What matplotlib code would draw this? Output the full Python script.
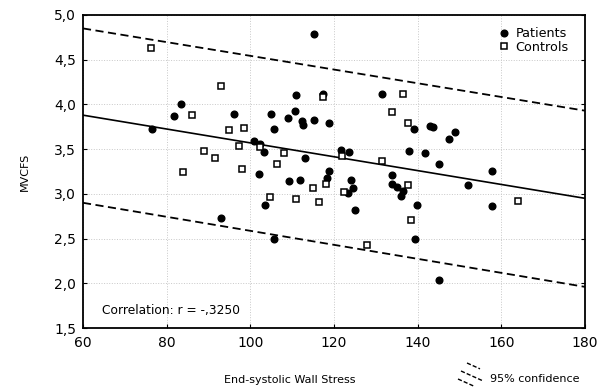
"""MVCFS vs end-systolic wall stress, patients and controls, with regression
line and 95% confidence band."""
import numpy as np
import matplotlib
matplotlib.use("Agg")
import matplotlib.pyplot as plt
from matplotlib.lines import Line2D
from matplotlib.ticker import FuncFormatter

# ---- data ----
pat_x = [76.4, 81.8, 83.4, 96.0, 105.0, 105.7, 110.8, 110.6, 109.1, 112.4,
         112.5, 115.3, 118.8, 115.3, 117.4, 100.9, 102.4, 103.3, 113.1, 102.0,
         109.2, 111.9, 118.9, 118.3, 124.0, 124.6, 123.3, 125.1, 103.6, 93.0,
         105.6, 121.7, 123.6, 131.5, 139.1, 143.0, 143.7, 149.0, 147.4, 138.0,
         141.8, 145.1, 133.8, 133.9, 135.0, 136.5, 135.9, 139.8, 139.3, 145.2,
         152.1, 157.7, 157.7]
pat_y = [3.72, 3.87, 4.00, 3.89, 3.89, 3.72, 4.11, 3.93, 3.85, 3.82,
         3.77, 3.83, 3.79, 4.79, 4.12, 3.59, 3.56, 3.47, 3.40, 3.22,
         3.14, 3.16, 3.26, 3.18, 3.15, 3.06, 3.01, 2.82, 2.87, 2.73,
         2.49, 3.49, 3.47, 4.12, 3.72, 3.76, 3.75, 3.69, 3.61, 3.48,
         3.46, 3.33, 3.21, 3.11, 3.08, 3.03, 2.98, 2.88, 2.49, 2.04,
         3.10, 3.26, 2.86]

ctl_x = [76.2, 92.9, 86.0, 95.0, 98.5, 89.0, 97.4, 91.6, 84.0, 97.9,
         102.2, 108.0, 106.3, 104.6, 111.0, 115.0, 116.5, 118.0, 117.4, 121.9,
         122.5, 131.4, 136.4, 133.9, 137.8, 137.8, 138.5, 127.8, 164.1]
ctl_y = [4.63, 4.21, 3.88, 3.71, 3.74, 3.48, 3.54, 3.40, 3.24, 3.28,
         3.52, 3.46, 3.33, 2.96, 2.94, 3.06, 2.91, 3.11, 4.08, 3.42,
         3.02, 3.37, 4.12, 3.91, 3.79, 3.10, 2.71, 2.43, 2.92]

# regression line and 95% band (values at the x-axis ends)
line_x = [60, 180]
fit_y = [3.88, 2.95]
upper_y = [4.85, 3.93]
lower_y = [2.90, 1.96]


def comma(v, pos):
    return f"{v:.1f}".replace(".", ",")


fig = plt.figure(figsize=(6.06, 3.89), dpi=100)
ax = fig.add_axes([83 / 606, 1 - 328 / 389, (585 - 83) / 606, (328 - 15) / 389])

dash = (0, (4.5, 2.5))
ax.plot(line_x, fit_y, color="black", lw=1.2, zorder=2)
ax.plot(line_x, upper_y, color="black", lw=1.3, ls=dash, zorder=2)
ax.plot(line_x, lower_y, color="black", lw=1.3, ls=dash, zorder=2)

ax.plot(pat_x, pat_y, "o", color="black", ms=4.8, ls="none", label="Patients", zorder=3)
ax.plot(ctl_x, ctl_y, "s", mfc="white", mec="black", mew=1.1, ms=4.2, ls="none",
        label="Controls", zorder=3)

ax.set_xlim(60, 180)
ax.set_ylim(1.5, 5.0)
ax.set_xticks(np.arange(60, 181, 20))
ax.set_yticks(np.arange(1.5, 5.01, 0.5))
ax.yaxis.set_major_formatter(FuncFormatter(comma))
ax.tick_params(direction="in", length=3, labelsize=10, right=True)
ax.tick_params(axis="x", pad=6)
ax.tick_params(axis="y", pad=5)
ax.grid(True, color="#c8c8c8", lw=0.7, ls=":")
for s in ax.spines.values():
    s.set_linewidth(1.3)

ax.text(64.5, 1.66, "Correlation: r = -,3250", fontsize=8.8)
ax.legend(loc="upper right", bbox_to_anchor=(0.985, 0.99), frameon=False,
          fontsize=9.2, handlelength=0.8, handletextpad=0.5, labelspacing=0.05,
          borderpad=0.2)

ax.set_ylabel("MVCFS", fontsize=8)
ax.yaxis.set_label_coords(-0.105, 0.5)
fig.text(290 / 606, 1 - 380 / 389, "End-systolic Wall Stress", fontsize=8,
         ha="center", va="center")

# legend glyph for the confidence band: three short dashed strokes
for dy, (x0, x1) in enumerate([(467, 480), (461, 482), (458, 474)]):
    y0 = 363 + dy * 8
    fig.add_artist(Line2D([x0 / 606, x1 / 606],
                          [1 - y0 / 389, 1 - (y0 + (x1 - x0) * 0.45) / 389],
                          color="black", lw=1.0, ls=(0, (3, 1.5))))
fig.text(490 / 606, 1 - 379 / 389, "95% confidence", fontsize=8,
         ha="left", va="center")

fig.savefig("out.png", dpi=100)
